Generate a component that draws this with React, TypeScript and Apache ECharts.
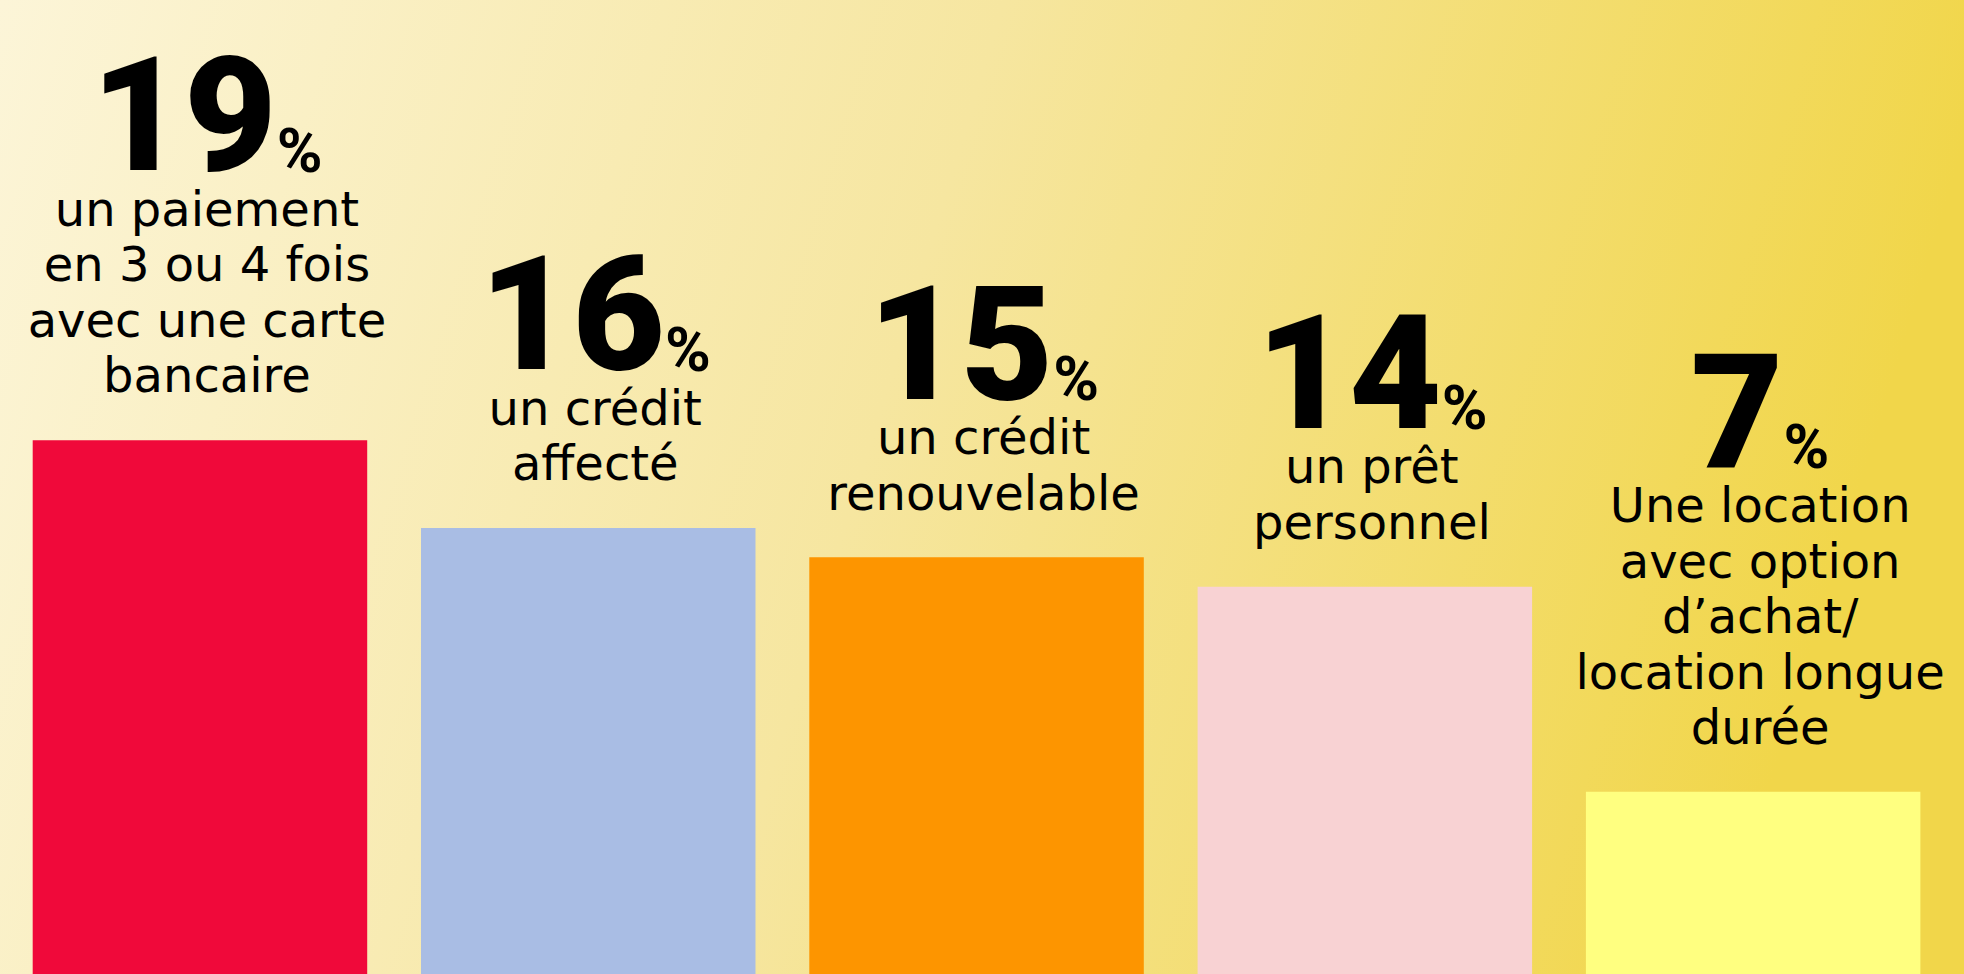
import React, { useEffect, useRef } from "react";
import * as echarts from "echarts";

const categories = [
  "un paiement\nen 3 ou 4 fois\navec une carte\nbancaire",
  "un crédit\naffecté",
  "un crédit\nrenouvelable",
  "un prêt\npersonnel",
  "Une location\navec option\nd’achat/\nlocation longue\ndurée",
];
const values = [19, 16, 15, 14, 7];
const barColors = ["#F0093A", "#A9BDE4", "#FD9500", "#F8D2D3", "#FFFF80"];

export default function App() {
  const ref = useRef<HTMLDivElement>(null);
  useEffect(() => {
    document.body.style.margin = "0";
    const chart = echarts.init(ref.current!, null, { renderer: "svg" });
    const option = {
      animation: false,
      graphic: [
        {
          type: "rect",
          z: -10,
          silent: true,
          shape: { x: 0, y: 0, width: 1964, height: 974 },
          style: {
            fill: new echarts.graphic.LinearGradient(0, 0, 1, 0.15, [
              { offset: 0, color: "#FCF5D8" },
              { offset: 0.5, color: "#F6E6A0" },
              { offset: 1, color: "#F1D64A" },
            ]),
          },
        },
      ],
      grid: { left: 5.8, right: 16.7, top: 0.5, bottom: 0, outerBoundsMode: "none" },
      xAxis: { type: "category", data: categories, show: false },
      yAxis: { type: "value", min: 0.785, max: 34, show: false, splitLine: { show: false } },
      series: [
        {
          type: "bar",
          barWidth: 334.5,
          data: values.map((v, i) => ({ value: v, itemStyle: { color: barColors[i] } })),
          label: {
            show: true,
            position: "top",
            distance: 37,
            offset: [7, 0],
            align: "center",
            formatter: (p: any) => {
              const lines = categories[p.dataIndex].split("\n").map((l) => `{lbl|${l}}`).join("\n");
              return `{big|${p.value}}{pct|%}\n${lines}`;
            },
            rich: {
              big: {
                fontFamily: "Roboto",
                fontWeight: 900,
                fontSize: 160,
                lineHeight: 130.7,
                color: "#000",
                verticalAlign: "middle",
              },
              pct: {
                fontFamily: "Roboto",
                fontWeight: "bold",
                fontSize: 62,
                lineHeight: 65,
                color: "#000",
                verticalAlign: "bottom",
              },
              lbl: {
                fontFamily: "DejaVu Sans",
                fontSize: 48,
                lineHeight: 55.5,
                color: "#000",
              },
            },
          },
        },
      ],
    };
    chart.setOption(option as any);
    return () => chart.dispose();
  }, []);
  return <div ref={ref} style={{ width: 1964, height: 974 }} />;
}
